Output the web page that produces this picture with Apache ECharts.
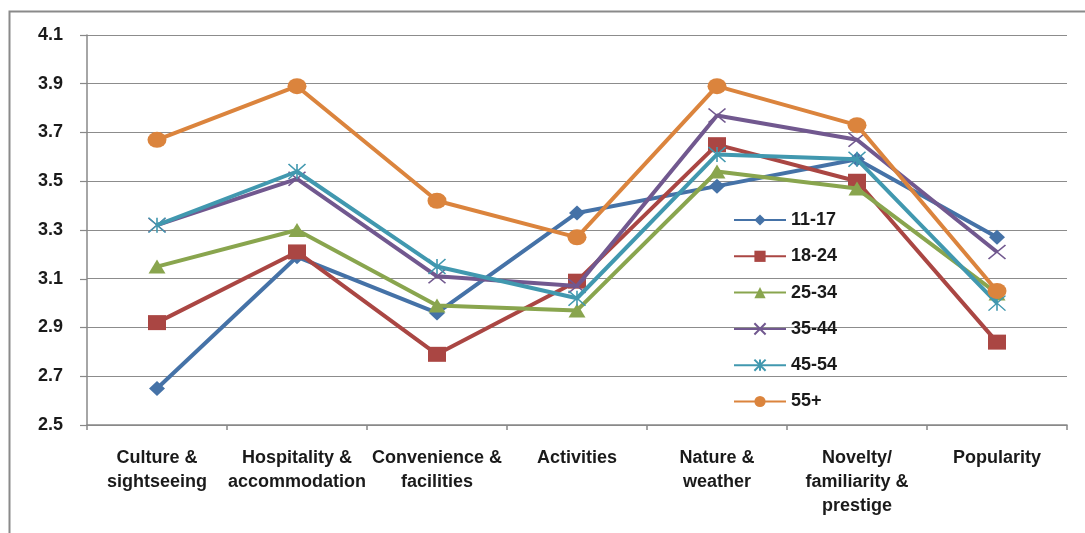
<!DOCTYPE html>
<html>
<head>
<meta charset="utf-8">
<script src="https://cdn.jsdelivr.net/npm/echarts@6/dist/echarts.min.js"></script>
<style>
html,body{margin:0;padding:0;background:#fff;}
#chart{width:1085px;height:533px;}
</style>
</head>
<body>
<div id="chart"></div>
<script>
const categories = ['Culture &\nsightseeing', 'Hospitality &\naccommodation', 'Convenience &\nfacilities', 'Activities', 'Nature &\nweather', 'Novelty/\nfamiliarity &\nprestige', 'Popularity'];
const seriesNames = ['11-17', '18-24', '25-34', '35-44', '45-54', '55+'];
const v1117 = [2.65, 3.19, 2.96, 3.37, 3.48, 3.59, 3.27];
const v1824 = [2.92, 3.21, 2.79, 3.09, 3.65, 3.50, 2.84];
const v2534 = [3.15, 3.30, 2.99, 2.97, 3.54, 3.47, 3.04];
const v3544 = [3.32, 3.51, 3.11, 3.07, 3.77, 3.67, 3.21];
const v4554 = [3.32, 3.54, 3.15, 3.02, 3.61, 3.59, 3.00];
const v55 = [3.67, 3.89, 3.42, 3.27, 3.89, 3.73, 3.05];
const yMin = 2.5, yMax = 4.1;
const yTickLabels = ['2.5', '2.7', '2.9', '3.1', '3.3', '3.5', '3.7', '3.9', '4.1'];

const colors = ['#4572A7', '#AA4643', '#89A54E', '#71588F', '#4198AF', '#DB843D'];
const symbols = ['diamond', 'rect', 'triangle',
  'path://M0,0L10,10M10,0L0,10',
  'path://M0,0L10,10M10,0L0,10M5,0L5,10',
  'circle'];
const sizes = [[16, 15], [18, 15], [17, 14], [17, 14], [17, 15], [19, 16]];
const allValues = [v1117, v1824, v2534, v3544, v4554, v55];
const FONT = 'Liberation Sans';

const series = seriesNames.map((name, i) => {
  const stroke = i === 3 || i === 4;
  return {
    name: name,
    type: 'line',
    data: allValues[i],
    symbol: symbols[i],
    symbolSize: sizes[i],
    symbolKeepAspect: false,
    lineStyle: { color: colors[i], width: 4 },
    itemStyle: stroke ? { color: colors[i], borderColor: colors[i], borderWidth: 1.5 } : { color: colors[i], borderWidth: 0 },
    yAxisIndex: 0,
    z: 3 + i
  };
});

const chart = echarts.init(document.getElementById('chart'), null, { renderer: 'canvas' });
chart.setOption({
  animation: false,
  backgroundColor: '#fff',
  graphic: [{
    type: 'rect', left: 7, top: 9, shape: { width: 1200, height: 700 },
    style: { fill: 'none', stroke: '#8a8a8a', lineWidth: 2 }, silent: true, z: -1
  }],
  grid: { left: 87, right: 18, top: 35, bottom: 108, containLabel: false },
  legend: {
    orient: 'vertical', left: 733, top: 210, padding: 0,
    itemWidth: 52, itemHeight: 14, itemGap: 16.3,
    textStyle: { fontFamily: FONT, fontWeight: 'bold', fontSize: 18, color: '#1a1a1a', lineHeight: 20 },
    data: seriesNames
  },
  xAxis: {
    type: 'category', data: categories, boundaryGap: true,
    axisLine: { lineStyle: { color: '#888', width: 1.5 } },
    axisTick: { show: true, alignWithLabel: false, length: 5, lineStyle: { color: '#888', width: 1.5 } },
    axisLabel: { interval: 0, margin: 21, fontFamily: FONT, fontWeight: 'bold', fontSize: 18, color: '#1a1a1a', lineHeight: 24, align: 'center' }
  },
  yAxis: [{
    type: 'value', min: yMin, max: yMax, interval: 0.1,
    axisLine: { show: true, lineStyle: { color: '#888', width: 1.5 } },
    axisTick: { show: false },
    axisLabel: {
      margin: 24, fontFamily: FONT, fontWeight: 'bold', fontSize: 18, color: '#1a1a1a',
      formatter: function (v) {
        const k = Math.round((v - yMin) * 10);
        return k % 2 === 0 ? yTickLabels[k / 2] : '';
      }
    },
    splitLine: { show: true, lineStyle: { color: ['#8c8c8c', 'rgba(0,0,0,0)'], width: 1.2 } }
  }, {
    type: 'value', min: 0, max: yMax - yMin, interval: 0.2, position: 'left',
    axisLine: { show: false },
    axisTick: { show: true, length: 7, lineStyle: { color: '#888', width: 1.2 } },
    axisLabel: { show: false },
    splitLine: { show: false }
  }],
  series: series
});
</script>
</body>
</html>
